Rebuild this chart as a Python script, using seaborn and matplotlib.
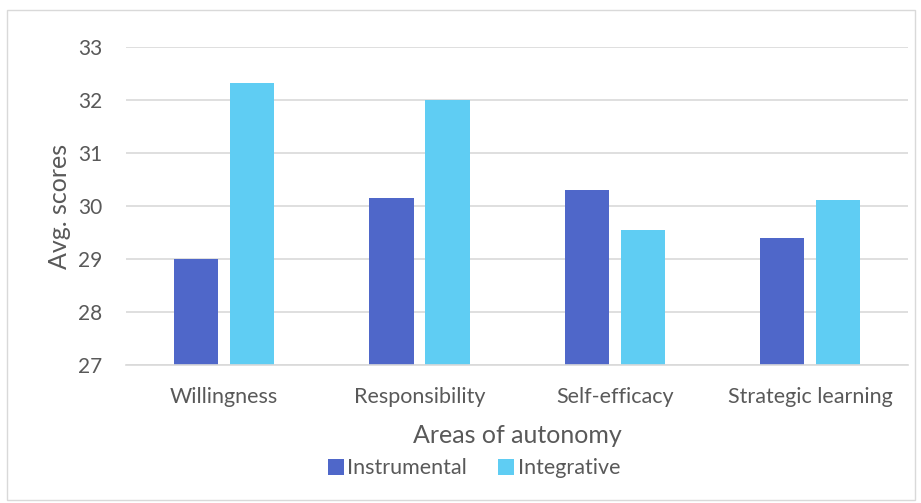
import matplotlib
matplotlib.use("Agg")
import matplotlib.pyplot as plt
import seaborn as sns
import pandas as pd
from matplotlib.patches import Rectangle
from matplotlib.lines import Line2D

categories = ["Willingness", "Responsibility", "Self-efficacy", "Strategic learning"]
series_names = ["Instrumental", "Integrative"]
instrumental = [29.0, 30.16, 30.30, 29.39]
integrative = [32.33, 32.0, 29.55, 30.11]
y_ticks = [27, 28, 29, 30, 31, 32, 33]

colors = {"Instrumental": "#4F67C9", "Integrative": "#5FCDF3"}
text_color = "#595959"
grid_color = "#D9D9D9"

df = pd.DataFrame({
    "area": categories * 2,
    "group": [series_names[0]] * 4 + [series_names[1]] * 4,
    "score": instrumental + integrative,
})

sns.set_theme(style="white")
plt.rcParams["font.family"] = ["Lato", "DejaVu Sans"]

fig = plt.figure(figsize=(9.21, 5.03), dpi=100)
ax = fig.add_axes([0.137, 0.274, 0.849, 0.6326])

sns.barplot(data=df, x="area", y="score", hue="group", order=categories,
            hue_order=series_names, palette=colors, width=0.573, gap=0.21,
            ax=ax, legend=False, linewidth=0, saturation=1)

ax.set_ylim(27, 33)
ax.set_xlim(-0.5, len(categories) - 0.5)
ax.set_yticks(y_ticks)
ax.set_yticklabels([str(t) for t in y_ticks])
ax.yaxis.grid(True, color=grid_color, linewidth=1.2)
ax.set_axisbelow(True)
for s in ["top", "right", "left"]:
    ax.spines[s].set_visible(False)
ax.spines["bottom"].set_color(grid_color)
ax.spines["bottom"].set_linewidth(1.2)
ax.tick_params(axis="both", length=0, colors=text_color)
ax.tick_params(axis="y", pad=17, labelsize=15)
ax.tick_params(axis="x", pad=16, labelsize=15.5)

ax.set_xlabel("Areas of autonomy", fontsize=18, color=text_color, labelpad=12)
ax.set_ylabel("Avg. scores", fontsize=18, color=text_color, labelpad=5)

handles = [Line2D([0], [0], marker="s", linestyle="none", markersize=11,
                  markerfacecolor=colors[n], markeredgewidth=0) for n in series_names]
leg = fig.legend(handles, series_names, loc="center", bbox_to_anchor=(0.513, 0.069),
                 ncol=2, frameon=False, fontsize=15.5, handletextpad=0.05,
                 columnspacing=1.3, handlelength=1.0)
for t in leg.get_texts():
    t.set_color(text_color)

fig.patches.append(Rectangle((7 / 921, 3 / 503), 908 / 921, 490 / 503,
                             transform=fig.transFigure, fill=False,
                             edgecolor="#D9D9D9", linewidth=1))

fig.savefig("out.png", dpi=100)
